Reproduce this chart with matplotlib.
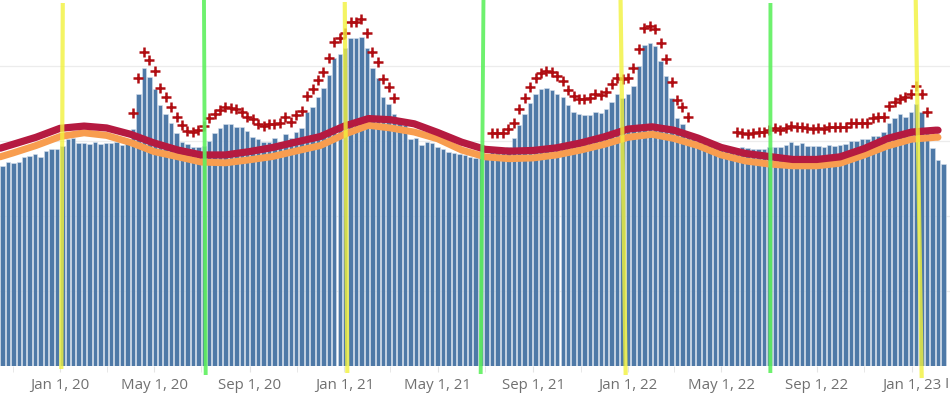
import matplotlib
matplotlib.use('Agg')
import matplotlib.pyplot as plt
import matplotlib.dates as mdates
import matplotlib.transforms as mtransforms
import pandas as pd

# ---------------- data (weekly deaths, thousands) ----------------
first_week = '2019-10-19'
weekly_deaths_k = [
    53.3, 54.2, 54.0, 54.2, 55.7, 56.0, 56.4, 55.7, 57.3, 57.7,
    57.7, 58.7, 60.5, 60.8, 59.5, 59.5, 59.1, 59.7, 59.1, 59.3,
    59.5, 59.7, 58.9, 59.5, 63.1, 72.5, 79.5, 77.1, 73.7, 69.5,
    67.1, 64.7, 62.1, 59.7, 59.0, 58.2, 58.2, 58.6, 59.9, 62.1,
    63.3, 64.4, 64.4, 63.6, 63.6, 62.7, 61.1, 60.5, 59.6, 59.6,
    60.8, 59.6, 61.7, 60.6, 62.4, 63.3, 67.6, 69.1, 71.7, 74.0,
    77.5, 82.0, 83.0, 84.8, 87.3, 87.3, 87.7, 84.6, 79.3, 76.6,
    71.6, 69.7, 67.0, 65.1, 64.2, 60.4, 60.8, 58.9, 59.7, 59.5,
    58.4, 57.7, 57.1, 56.8, 56.5, 56.2, 55.7, 55.5, 55.3, 55.9,
    57.3, 57.3, 57.5, 58.4, 60.6, 64.2, 67.1, 70.0, 72.5, 73.8,
    74.1, 73.5, 72.4, 71.6, 69.5, 67.7, 67.1, 66.9, 66.9, 67.7,
    67.5, 68.4, 70.4, 72.4, 71.3, 72.4, 74.6, 79.9, 85.5, 86.1,
    85.3, 81.3, 77.3, 71.3, 66.1, 64.4, 62.1, 60.5, 59.9, 59.4,
    58.9, 58.3, 57.8, 57.5, 57.5, 58.1, 58.2, 58.1, 57.7, 57.7,
    57.7, 58.4, 58.4, 58.4, 58.9, 59.7, 58.9, 59.3, 58.6, 58.6,
    58.6, 58.2, 58.9, 58.7, 58.9, 59.0, 59.9, 59.9, 60.5, 60.5,
    61.3, 61.3, 62.2, 64.7, 66.1, 67.1, 66.3, 67.7, 69.9, 67.7,
    63.1, 58.1, 54.9, 53.7,
]

# "+" markers: weeks flagged above threshold (segment start week -> values)
excess_2020_start = '2020-04-04'
excess_2020 = [
    67.5, 76.8, 83.7, 81.5, 78.6, 74.0, 71.6, 69.1, 66.2, 64.2,
    62.7, 62.4, 62.9, 63.9, 66.0, 67.1, 68.2, 68.9, 68.8, 68.4,
    67.7, 66.4, 65.7, 64.4, 64.0, 64.4, 64.4, 64.6, 66.4, 65.1,
    66.9, 68.0, 72.0, 73.8, 76.2, 78.2, 82.1, 86.2, 87.3, 88.6,
    91.6, 91.6, 92.4, 88.6, 83.7, 81.1, 76.4, 74.2, 71.3,
]
excess_2021_start = '2021-07-10'
excess_2021 = [
    62.0, 62.0, 62.0, 63.0, 64.8, 68.5, 71.5, 74.2, 76.6, 78.1,
    78.7, 78.2, 77.3, 76.0, 73.5, 71.9, 71.0, 71.0, 71.3, 72.5,
    72.2, 73.1, 75.1, 76.6, 76.4, 76.6, 79.3, 84.5, 90.0, 90.6,
    89.8, 86.0, 81.8, 75.6, 70.9, 68.9, 66.4,
]
excess_2022_start = '2022-05-21'
excess_2022 = [
    62.2, 62.0, 61.8, 62.0, 62.3, 62.4, 62.9, 63.3, 62.9, 63.3,
    63.9, 63.7, 63.6, 63.3, 63.1, 63.3, 63.1, 63.6, 63.6, 63.7,
    63.7, 64.6, 64.6, 64.6, 64.8, 66.0, 66.2, 66.4, 69.3, 70.4,
    71.0, 71.7, 72.5, 74.6, 72.5, 67.7,
]

# threshold (red) and expected (orange) lines, read at month starts
line_dates = (['2019-10-16'] +
              [d.strftime('%Y-%m-%d') for d in pd.date_range('2019-11-01', '2023-02-01', freq='MS')] +
              ['2023-02-04'])
threshold_k = [
    58.0, 59.0, 60.9, 63.3, 63.9, 63.4, 61.7, 59.4, 57.5, 56.2, 56.2, 57.1,
    58.2, 59.7, 61.1, 63.9, 65.9, 65.6, 64.5, 62.2, 59.6, 57.7, 57.2, 57.4,
    58.1, 59.4, 61.0, 63.1, 63.7, 62.8, 60.7, 58.2, 56.6, 55.8, 55.0, 55.0,
    55.7, 57.9, 60.6, 62.3, 62.8, 62.8,
]
expected_k = [
    55.7, 56.7, 58.7, 61.1, 62.1, 61.4, 59.5, 57.1, 55.7, 54.3, 54.1, 54.9,
    55.8, 57.3, 58.7, 61.7, 64.1, 63.4, 62.3, 60.5, 57.5, 55.7, 55.2, 55.4,
    56.2, 57.5, 59.0, 60.9, 61.7, 60.6, 58.7, 56.2, 54.6, 53.8, 53.3, 53.3,
    54.0, 56.2, 58.6, 60.4, 60.9, 60.9,
]

# hand-drawn marker lines: (top date, bottom date, top px, bottom px)
yellow_marks = [('2020-01-04 14:00', '2020-01-02 17:00', 3, 369),
                ('2021-01-01 12:00', '2021-01-04 19:00', 2, 373),
                ('2021-12-22 10:00', '2021-12-29 00:00', 0, 375),
                ('2023-01-06 07:00', '2023-01-14 00:00', 0, 378)]
green_marks = [('2020-07-04 07:00', '2020-07-06 12:00', 0, 375),
               ('2021-06-29 00:00', '2021-06-25 10:00', 0, 374),
               ('2022-07-03 08:00', '2022-07-03 05:00', 3, 373)]

tick_dates = ['2020-01-01', '2020-05-01', '2020-09-01', '2021-01-01', '2021-05-01',
              '2021-09-01', '2022-01-01', '2022-05-01', '2022-09-01', '2023-01-01']

# ---------------- figure ----------------
W, H = 950, 398
AX_BOTTOM_PX = 365.7
fig = plt.figure(figsize=(W / 100, H / 100), dpi=100)
ax = fig.add_axes([0, 1 - AX_BOTTOM_PX / H, 1, AX_BOTTOM_PX / H])

weeks = pd.date_range(first_week, periods=len(weekly_deaths_k), freq='7D')

ax.set_xlim(pd.Timestamp('2019-10-15 19:00'), pd.Timestamp('2023-02-19 10:00'))
ax.set_ylim(0, 97.52)

# gridlines
for g in [20, 40, 60, 80]:
    ax.axhline(g, color='#ececec', lw=0.9, zorder=0)

ax.bar(weeks, weekly_deaths_k, width=5.7, color='#4e79a7', edgecolor='#d6e0ec',
       linewidth=0.4, zorder=1)

ld = pd.to_datetime(line_dates)
ax.plot(ld, expected_k, color='#f89d4f', lw=5.0, solid_capstyle='round',
        solid_joinstyle='round', zorder=2)
ax.plot(ld, threshold_k, color='#b51a40', lw=5.2, solid_capstyle='round',
        solid_joinstyle='round', zorder=3)

for start, vals in [(excess_2020_start, excess_2020),
                    (excess_2021_start, excess_2021),
                    (excess_2022_start, excess_2022)]:
    xs = pd.date_range(start, periods=len(vals), freq='7D')
    ax.plot(xs, vals, linestyle='none', marker='+', markersize=7, mew=1.8,
            color='#b00d12', zorder=4)

trans = mtransforms.blended_transform_factory(ax.transData, ax.transAxes)
def frac(px):
    return (AX_BOTTOM_PX - px) / AX_BOTTOM_PX
for d0, d1, p0, p1 in yellow_marks:
    ax.plot([pd.Timestamp(d0), pd.Timestamp(d1)], [frac(p0), frac(p1)], transform=trans,
            color='#f2f23c', alpha=0.8, lw=3.0, solid_capstyle='butt', clip_on=False, zorder=6)
for d0, d1, p0, p1 in green_marks:
    ax.plot([pd.Timestamp(d0), pd.Timestamp(d1)], [frac(p0), frac(p1)], transform=trans,
            color='#5ef05e', alpha=0.9, lw=2.8, solid_capstyle='butt', clip_on=False, zorder=6)

for s in ax.spines.values():
    s.set_visible(False)
ax.set_yticks([])

td = pd.to_datetime(tick_dates)
ax.set_xticks(td)
ax.set_xticklabels([f"{d.strftime('%b')} {d.day}, {d.strftime('%y')}" for d in td],
                   fontfamily=['Open Sans', 'DejaVu Sans'], fontsize=10.8, color='#707070')
ax.xaxis.set_minor_locator(mdates.MonthLocator(bymonth=[3, 7, 11]))
ax.tick_params(axis='x', which='major', length=4, color='#e4e4e4', pad=5)
ax.tick_params(axis='x', which='minor', length=4, color='#e4e4e4')

fig.text(947 / W, 1 - 385 / H, 'I', fontfamily=['Open Sans', 'DejaVu Sans'], fontsize=10.8,
         color='#707070', ha='center', va='center')

fig.savefig('out.png', dpi=100)
